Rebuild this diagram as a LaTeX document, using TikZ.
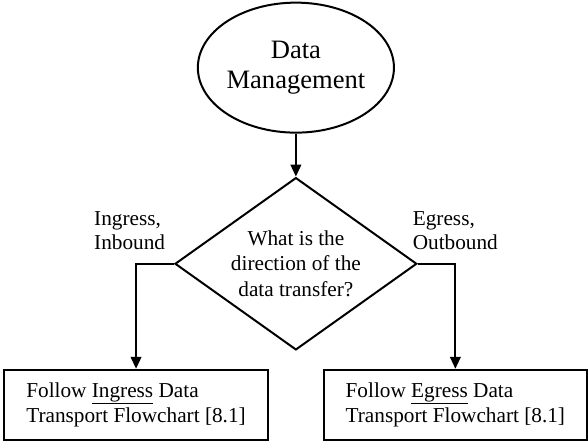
\documentclass[tikz,border=0pt]{standalone}
\usepackage{fontspec}
\setmainfont{Liberation Serif}
\usetikzlibrary{shapes.geometric,arrows.meta}
\begin{document}
\begin{tikzpicture}[line width=1.5pt, >={Triangle[length=9pt,width=8pt]},
  txt/.style={font=\fontsize{16}{19}\selectfont, align=center, inner sep=0},
  lbl/.style={font=\fontsize{16}{18}\selectfont, align=left, inner sep=0},
  flowbox/.style={draw, rectangle, minimum width=7cm, minimum height=1.85cm, txt, align=left}]
\useasboundingbox (0,0) rectangle (15.56,11.69);
\node[draw, ellipse, minimum width=4.76cm, minimum height=3.44cm, inner sep=0, align=center,
  font=\fontsize{20}{23}\selectfont] (dm) at (7.83,9.90) {Data\\Management};
\node[draw, diamond, aspect=1.4, minimum width=6.4cm, minimum height=4.56cm, txt] (dir) at (7.83,4.71)
  {What is the\\direction of the\\data transfer?};
\node[flowbox] (ingress) at (3.60,0.98) {Follow \underline{Ingress} Data\\Transport Flowchart [8.1]};
\node[flowbox, minimum width=6.96cm] (egress) at (12.05,0.98) {Follow \underline{Egress} Data\\Transport Flowchart [8.1]};
% branch labels
\node[lbl, anchor=south] (inlbl) at (3.43,5.05) {Ingress,\\Inbound};
\node[lbl, anchor=south] (outlbl) at (12.05,5.05) {Egress,\\Outbound};
\draw [->] (dm) -- (dir);
\draw [->] (dir.west) -| (ingress.north);
\draw [->] (dir.east) -| (egress.north);
\end{tikzpicture}
\end{document}
